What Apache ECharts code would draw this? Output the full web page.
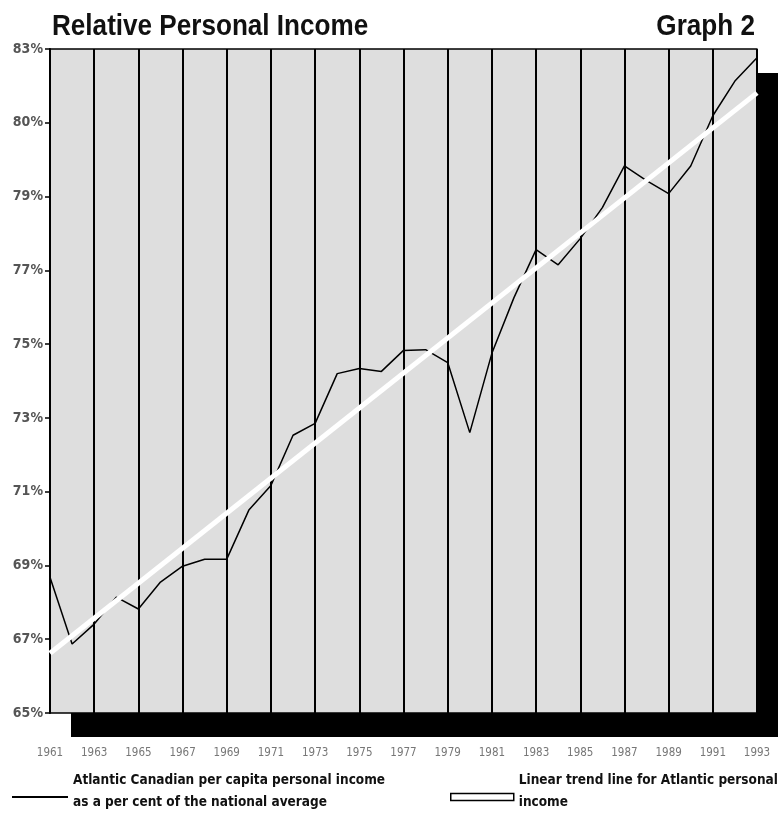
<!DOCTYPE html>
<html>
<head>
<meta charset="utf-8">
<script src="https://cdn.jsdelivr.net/npm/echarts@6/dist/echarts.min.js"></script>
<style>
  html, body { margin: 0; padding: 0; background: #fff; }
  #chart { width: 779px; height: 820px; }
</style>
</head>
<body>
<div id="chart"></div>
<script>
// Years on the horizontal axis, one category per year
const years = ['1961','1962','1963','1964','1965','1966','1967','1968','1969','1970',
  '1971','1972','1973','1974','1975','1976','1977','1978','1979','1980',
  '1981','1982','1983','1984','1985','1986','1987','1988','1989','1990',
  '1991','1992','1993'];

// Atlantic Canadian per capita personal income, % of national average
const atlanticIncome = [68.68, 66.87, 67.41, 68.14, 67.82, 68.55, 68.98, 69.17, 69.17, 70.5,
  71.17, 72.53, 72.85, 74.2, 74.34, 74.26, 74.83, 74.85, 74.5, 72.6,
  74.75, 76.26, 77.56, 77.15, 77.86, 78.7, 79.83, 79.43, 79.08, 79.83,
  81.19, 82.13, 82.76];

// Linear trend line end points
const trendYears = ['1961', '1993'];
const trendValues = [66.62, 81.81];

// Percent tick labels, bottom to top, as printed on the graph
const yTickValues = [65, 67, 69, 71, 73, 75, 77, 79, 81, 83];
const yTickLabels = ['65%', '67%', '69%', '71%', '73%', '75%', '77%', '79%', '80%', '83%'];

const seriesNames = [
  'Atlantic Canadian per capita personal income\nas a per cent of the national average',
  'Linear trend line for Atlantic personal\nincome'
];

const condensed = '"DejaVu Sans Condensed", "DejaVu Sans", sans-serif';
const headFont = 'bold 30px "Liberation Sans", Arial, sans-serif';

const legendText = {
  fontFamily: condensed, fontSize: 13.5, fontWeight: 'bold', color: '#111', lineHeight: 22,
  rich: { gap: { fontSize: 1, lineHeight: 12 } }
};

const chart = echarts.init(document.getElementById('chart'), null, { renderer: 'canvas' });

chart.setOption({
  backgroundColor: '#ffffff',
  animation: false,
  // Heading, drawn slightly condensed
  graphic: [
    {
      type: 'text', x: 52, y: 27, scaleX: 0.87,
      style: { text: 'Relative Personal Income', font: headFont, fill: '#111', align: 'left', verticalAlign: 'middle' }
    },
    {
      type: 'text', x: 755, y: 27, scaleX: 0.87,
      style: { text: 'Graph 2', font: headFont, fill: '#111', align: 'right', verticalAlign: 'middle' }
    }
  ],
  grid: {
    left: 50, right: 22, top: 49, bottom: 107,
    show: true,
    backgroundColor: '#dedede',
    borderWidth: 0,
    shadowColor: '#000',
    shadowBlur: 0,
    shadowOffsetX: 21,
    shadowOffsetY: 24
  },
  legend: [
    {
      data: [seriesNames[0]],
      left: 12, top: 769, padding: 0,
      itemWidth: 56, itemHeight: 2,
      icon: 'rect',
      selectedMode: false,
      itemStyle: { color: '#000' },
      formatter: n => n + '\n{gap|}',
      textStyle: legendText
    },
    {
      data: [{
        name: seriesNames[1],
        icon: 'rect',
        itemStyle: { color: '#fff', borderColor: '#000', borderWidth: 1.5 }
      }],
      left: 450, top: 769, padding: 0,
      itemWidth: 63, itemHeight: 7,
      selectedMode: false,
      formatter: n => n + '\n{gap|}',
      textStyle: legendText
    }
  ],
  xAxis: [
    {
      type: 'category',
      data: years,
      boundaryGap: false,
      axisLine: { show: true, lineStyle: { color: '#000', width: 1.5 } },
      axisTick: { show: false },
      axisLabel: {
        interval: 1,
        margin: 34,
        fontFamily: condensed,
        fontSize: 11.5,
        color: '#777'
      },
      splitLine: { show: true, interval: 1, lineStyle: { color: '#000', width: 2 } }
    },
    {
      type: 'category',
      data: years,
      position: 'top',
      boundaryGap: false,
      axisLine: { show: true, lineStyle: { color: '#000', width: 1.5 } },
      axisTick: { show: false },
      axisLabel: { show: false },
      splitLine: { show: false }
    }
  ],
  yAxis: {
    type: 'value',
    min: 65, max: 83, interval: 2,
    axisLine: { show: true, lineStyle: { color: '#000', width: 2 } },
    axisTick: { show: true, length: 5, lineStyle: { color: '#000', width: 1.5 } },
    splitLine: { show: false },
    axisLabel: {
      margin: 7,
      fontFamily: condensed,
      fontSize: 14,
      fontWeight: 'bold',
      color: '#555',
      formatter: function (v) {
        const i = yTickValues.indexOf(v);
        return i >= 0 ? yTickLabels[i] : '';
      }
    }
  },
  series: [
    {
      name: seriesNames[0],
      type: 'line',
      data: atlanticIncome,
      symbol: 'none',
      lineStyle: { color: '#000', width: 1.5 },
      itemStyle: { color: '#000' },
      z: 3
    },
    {
      name: seriesNames[1],
      type: 'line',
      data: trendYears.map((y, i) => [y, trendValues[i]]),
      symbol: 'none',
      lineStyle: { color: '#fff', width: 5 },
      itemStyle: { color: '#fff' },
      z: 4
    }
  ]
});
</script>
</body>
</html>
